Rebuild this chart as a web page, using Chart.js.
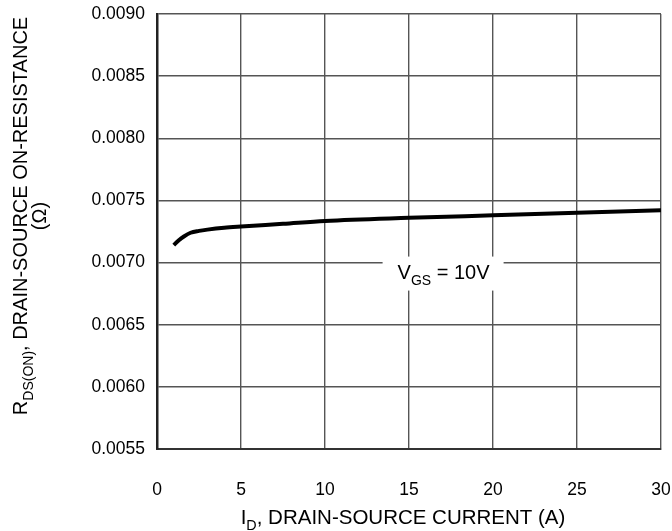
<!DOCTYPE html>
<html>
<head>
<meta charset="utf-8">
<script src="https://cdn.jsdelivr.net/npm/chart.js@4.4.0/dist/chart.umd.min.js"></script>
<style>
  body { margin: 0; background: #fff; }
  #wrap { width: 672px; height: 531px; }
</style>
</head>
<body>
<div id="wrap"><canvas id="rds"></canvas></div>
<script>
// drain current (A) and on-resistance (ohm)
var current = [1, 1.3, 1.6, 2, 2.5, 3, 4, 5, 7.5, 10, 15, 20, 25, 30];
var rdsOn = [0.00714, 0.00718, 0.00721, 0.00724, 0.007255, 0.007265, 0.00728, 0.00729, 0.007312, 0.007335, 0.00736, 0.00738, 0.0074, 0.00742];
var xTicks = [0, 5, 10, 15, 20, 25, 30];
var yTicks = [0.0055, 0.0060, 0.0065, 0.0070, 0.0075, 0.0080, 0.0085, 0.0090];

var FONT = '"Liberation Sans", Arial, sans-serif';

// draws text with a subscript part: parts = [[text, isSub], ...]
function subText(c, parts, x, y, size, align) {
  var w = 0;
  parts.forEach(function (p) {
    c.font = (p[1] ? size * 0.7 : size) + 'px ' + FONT;
    w += c.measureText(p[0]).width;
  });
  var cx = align === 'center' ? x - w / 2 : x;
  c.textAlign = 'left';
  parts.forEach(function (p) {
    c.font = (p[1] ? size * 0.7 : size) + 'px ' + FONT;
    c.fillText(p[0], cx, p[1] ? y + size * 0.3 : y);
    cx += c.measureText(p[0]).width;
  });
}

var labels = {
  id: 'labels',
  afterDatasetsDraw: function (chart) {
    var c = chart.ctx, a = chart.chartArea;
    var xs = chart.scales.x, ys = chart.scales.y;
    c.save();
    c.textBaseline = 'alphabetic';

    // VGS label box
    var bx = xs.getPixelForValue(17), by = ys.getPixelForValue(0.0070);
    c.fillStyle = '#fff';
    c.fillRect(bx - 60, by - 6, 121, 34);
    c.fillStyle = '#000';
    subText(c, [['V', false], ['GS', true], [' = 10V', false]], bx - 45, by + 16, 20, 'left');

    // x title
    subText(c, [['I', false], ['D', true], [', DRAIN-SOURCE CURRENT (A)', false]], (a.left + a.right) / 2 - 6, 524, 20.5, 'center');

    // y title, rotated
    c.translate(27, 216);
    c.rotate(-Math.PI / 2);
    subText(c, [['R', false], ['DS(ON)', true], [', DRAIN-SOURCE ON-RESISTANCE', false]], 0, 0, 20, 'center');
    c.textAlign = 'center';
    c.font = '20px ' + FONT;
    c.fillText('(\u03A9)', 0, 19);
    c.restore();
  }
};

new Chart(document.getElementById('rds').getContext('2d'), {
  type: 'line',
  data: {
    datasets: [{
      data: current.map(function (v, i) { return { x: v, y: rdsOn[i] }; }),
      borderColor: '#000',
      borderWidth: 4,
      pointRadius: 0,
      fill: false,
      cubicInterpolationMode: 'monotone'
    }]
  },
  options: {
    responsive: true,
    maintainAspectRatio: false,
    animation: false,
    layout: { padding: { left: 0, top: 14, right: 11, bottom: 0 } },
    plugins: { legend: { display: false }, tooltip: { enabled: false } },
    scales: {
      x: {
        type: 'linear',
        min: 0, max: 30,
        afterBuildTicks: function (s) { s.ticks = xTicks.map(function (v) { return { value: v }; }); },
        afterFit: function (s) { s.height = 82; s.paddingLeft = 0; s.paddingRight = 0; },
        grid: { color: '#555', lineWidth: 1.4, drawTicks: false },
        border: { color: '#333', width: 2 },
        ticks: { padding: 31, color: '#000', font: { family: FONT, size: 17.5 } }
      },
      y: {
        type: 'linear',
        min: 0.0055, max: 0.0090,
        afterBuildTicks: function (s) { s.ticks = yTicks.map(function (v) { return { value: v }; }); },
        afterFit: function (s) { s.width = 157; s.paddingTop = 0; s.paddingBottom = 0; },
        grid: { color: '#555', lineWidth: 1.4, drawTicks: false },
        border: { color: '#222', width: 2.5 },
        ticks: {
          padding: 12, color: '#000', font: { family: FONT, size: 17.5 },
          callback: function (v) { return v.toFixed(4); }
        }
      }
    }
  },
  plugins: [labels]
});
</script>
</body>
</html>
